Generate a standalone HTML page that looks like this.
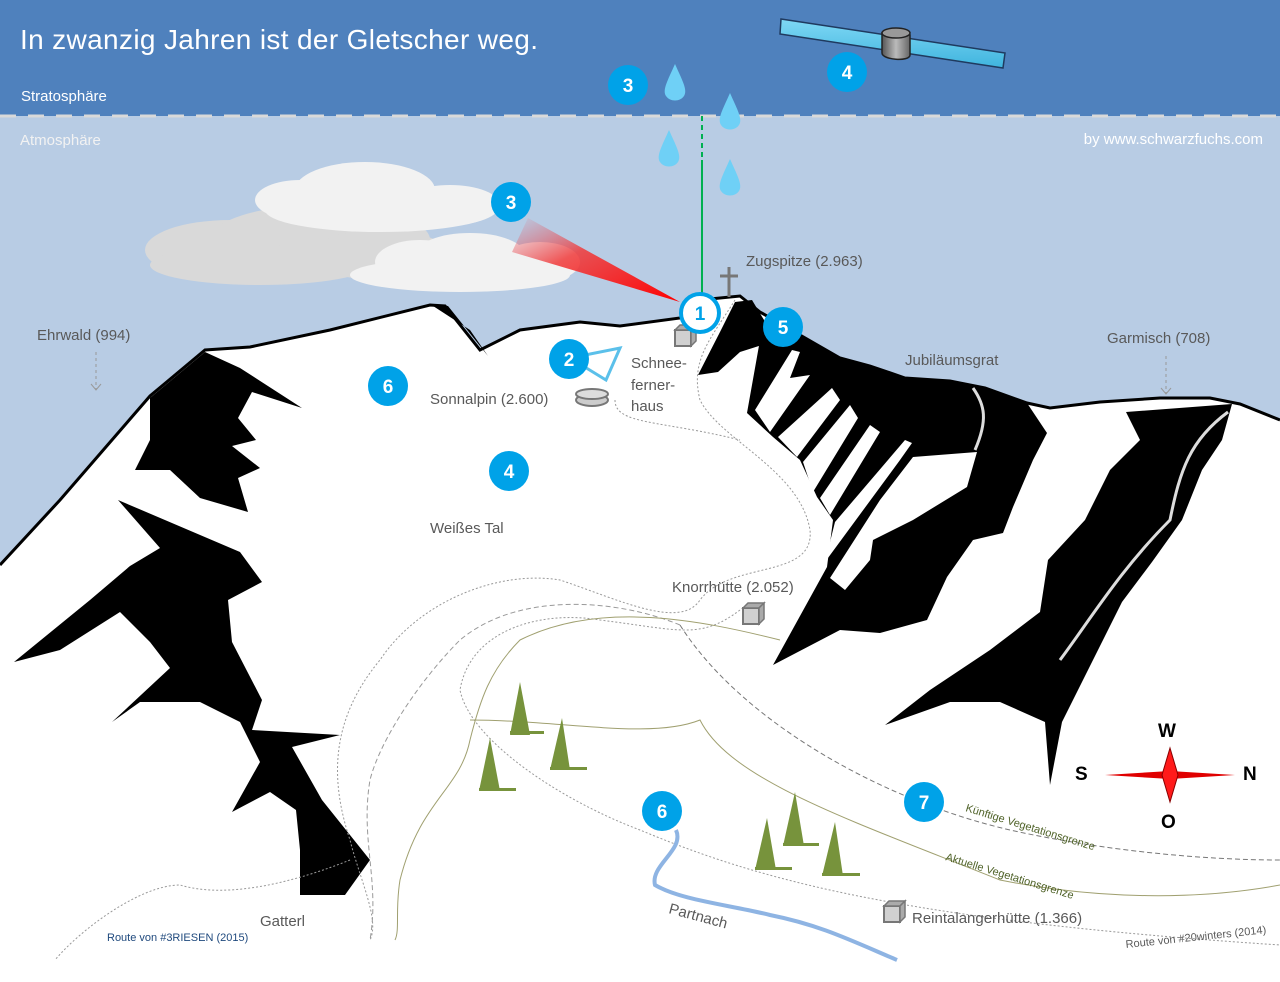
<!DOCTYPE html>
<html><head><meta charset="utf-8"><style>
html,body{margin:0;padding:0;background:#fff}
svg{display:block}
text{font-family:"Liberation Sans",sans-serif}
</style></head><body>
<svg width="1280" height="982" viewBox="0 0 1280 982" xmlns="http://www.w3.org/2000/svg">
<defs>
<linearGradient id="beam" x1="1" y1="1" x2="0" y2="0">
<stop offset="0" stop-color="#ff0000"/><stop offset="0.6" stop-color="#f03a3a" stop-opacity="0.85"/><stop offset="1" stop-color="#e06070" stop-opacity="0"/>
</linearGradient>
<linearGradient id="panel" x1="0" y1="0" x2="0" y2="1"><stop offset="0" stop-color="#7fd8f5"/><stop offset="1" stop-color="#3fb4de"/></linearGradient>
<linearGradient id="body" x1="0" y1="0" x2="1" y2="0"><stop offset="0" stop-color="#555"/><stop offset="0.5" stop-color="#bbb"/><stop offset="1" stop-color="#666"/></linearGradient>
</defs>
<rect width="1280" height="982" fill="#fff"/>
<rect width="1280" height="116" fill="#4f81bd"/>
<rect y="116" width="1280" height="500" fill="#b8cce4"/>
<line x1="0" y1="116" x2="1280" y2="116" stroke="#d9d9d9" stroke-width="3" stroke-dasharray="16,12"/>
<text x="20" y="49" font-size="28" fill="#fff" textLength="518">In zwanzig Jahren ist der Gletscher weg.</text>
<text x="21" y="101" font-size="15" fill="#fff">Stratosphäre</text>
<text x="20" y="145" font-size="15" fill="#f2f2f2">Atmosphäre</text>
<text x="1263" y="144" font-size="15" fill="#fff" text-anchor="end">by www.schwarzfuchs.com</text>

<!-- clouds -->
<g fill="#d9d9d9">
<ellipse cx="230" cy="250" rx="85" ry="30"/><ellipse cx="320" cy="240" rx="110" ry="35"/><ellipse cx="380" cy="255" rx="70" ry="25"/><ellipse cx="260" cy="265" rx="110" ry="20"/>
</g>
<g fill="#f2f2f2">
<ellipse cx="300" cy="200" rx="45" ry="20"/><ellipse cx="365" cy="190" rx="70" ry="28"/><ellipse cx="450" cy="205" rx="50" ry="20"/><ellipse cx="380" cy="210" rx="115" ry="22"/>
<ellipse cx="420" cy="262" rx="45" ry="22"/><ellipse cx="470" cy="255" rx="55" ry="22"/><ellipse cx="540" cy="262" rx="40" ry="20"/><ellipse cx="460" cy="275" rx="110" ry="17"/>
</g>
<polygon points="528,218 512,252 680,302" fill="url(#beam)"/>

<!-- mountain snow -->
<path d="M0,565 L60,500 L150,396 L205,350 L250,347 L330,330 L430,305 L445,306 L480,350 L520,330 L580,322 L620,326 L680,318 L700,300 L740,296 L760,312 L800,335 L840,358 L870,366 L905,378 L950,381 L985,388 L1027,403 L1050,408 L1100,402 L1160,398 L1210,398 L1240,404 L1280,420 L1280,982 L0,982 Z" fill="#fff"/>
<path d="M0,565 L60,500 L150,396 L205,350 L250,347 L330,330 L430,305 L445,306 L480,350 L520,330 L580,322 L620,326 L680,318 L700,300 L740,296 L760,312 L800,335 L840,358 L870,366 L905,378 L950,381 L985,388 L1027,403 L1050,408 L1100,402 L1160,398 L1210,398 L1240,404 L1280,420" fill="none" stroke="#000" stroke-width="3"/>
<polygon points="430,304 448,306 488,356 470,330" fill="#000"/>

<!-- left rock -->
<path d="M150,398 L205,352 L240,368 L302,408 L252,392 L238,418 L256,440 L232,446 L260,468 L238,478 L248,512 L200,498 L170,470 L135,470 L150,440 Z" fill="#000"/>
<path d="M118,500 L240,552 L262,582 L228,600 L232,642 L262,700 L252,730 L340,735 L292,747 L322,800 L370,860 L345,895 L300,895 L300,850 L296,810 L270,792 L232,812 L260,762 L240,722 L200,702 L140,702 L112,722 L170,668 L150,642 L120,612 L60,650 L14,662 L90,600 L130,566 L160,548 Z" fill="#000"/>

<!-- summit -->
<polygon points="698,375 720,332 735,302 752,300 770,330 762,345 740,352 718,372" fill="#000"/>
<!-- right rock A -->
<polygon points="760,325 800,336 840,358 870,366 905,378 950,381 985,388 1027,403 1047,433 1033,460 1013,507 1003,533 973,540 947,577 927,620 880,633 840,630 773,665 827,567 833,520 817,497 800,460 773,437 747,413 760,340" fill="#000"/>
<g fill="#fff">
<polygon points="755,410 770,432 810,375 790,378 800,352 792,350"/>
<polygon points="778,437 797,457 840,400 832,388"/>
<polygon points="803,462 813,492 858,418 850,405"/>
<polygon points="820,498 830,515 880,432 870,425"/>
<polygon points="835,522 825,562 900,460 912,443 905,440"/>
<polygon points="830,578 845,590 870,560 873,540 913,520 967,487 977,452 913,457 880,500"/>
</g>
<path d="M973,388 C985,405 988,420 975,450" stroke="#ddd" stroke-width="3" fill="none"/>
<!-- right rock B -->
<path d="M1126,412 L1232,404 L1222,440 L1202,470 L1182,520 L1152,562 L1122,602 L1102,642 L1082,682 L1062,722 L1050,785 L1045,722 L1000,702 L950,702 L885,725 L930,690 L990,650 L1040,612 L1048,560 L1085,520 L1110,470 L1140,440 Z" fill="#000"/>
<path d="M1228,412 C1190,440 1180,470 1170,520 C1120,570 1090,620 1060,660" stroke="#ddd" stroke-width="3" fill="none"/>

<!-- trails -->
<g fill="none" stroke="#999" stroke-width="1" stroke-dasharray="2,2">
<path d="M735,300 C710,340 690,360 700,400 C720,440 800,470 810,530 C815,580 730,560 700,600 C680,630 620,600 560,580 C500,570 420,600 380,660 C330,720 330,780 350,840 C360,880 380,920 370,940"/>
<path d="M615,400 C615,425 660,420 740,440"/>
<path d="M740,610 C700,640 680,630 600,620 C540,610 470,630 460,690 C470,740 560,800 640,830 C760,880 900,920 1280,945"/>
<path d="M350,860 C300,880 230,900 180,885 C140,885 80,930 55,960"/>
</g>
<path d="M680,625 C620,600 520,590 460,640 C420,680 380,740 370,780 C360,840 380,880 370,940" fill="none" stroke="#999" stroke-dasharray="5,3"/>
<path d="M680,625 C740,720 880,800 1010,830 C1100,850 1200,860 1280,860" fill="none" stroke="#777" stroke-dasharray="5,3"/>
<path d="M780,640 C700,620 600,600 520,640 C490,670 480,700 470,740 C460,790 420,800 400,880 C395,910 400,930 395,940 M470,720 C560,720 650,740 700,720 C730,780 850,820 1000,880 C1100,900 1200,900 1280,885" fill="none" stroke="#a0a070" stroke-width="1"/>
<text x="107" y="941" font-size="11" fill="#1f497d">Route von #3RIESEN (2015)</text>
<text x="260" y="926" font-size="15" fill="#595959">Gatterl</text>
<text x="1126" y="948" font-size="11" fill="#595959" transform="rotate(-6 1126 948)">Route von #20winters (2014)</text>

<!-- river -->
<path d="M676,830 C685,850 650,865 655,885 C680,900 730,905 770,915 C820,925 850,940 897,960" fill="none" stroke="#8eb4e3" stroke-width="4"/>
<text x="668" y="913" font-size="15" fill="#595959" transform="rotate(15 668 913)">Partnach</text>

<!-- trees -->
<g fill="#77933c">
<polygon points="520,682 510,735 530,735"/><rect x="510" y="731" width="34" height="3"/>
<polygon points="562,718 550,770 570,770"/><rect x="550" y="767" width="37" height="3"/>
<polygon points="490,738 479,791 500,791"/><rect x="479" y="788" width="37" height="3"/>
<polygon points="795,792 783,846 804,846"/><rect x="783" y="843" width="36" height="3"/>
<polygon points="767,818 755,870 776,870"/><rect x="755" y="867" width="37" height="3"/>
<polygon points="835,822 822,876 843,876"/><rect x="822" y="873" width="38" height="3"/>
</g>
<text x="965" y="811" font-size="11" fill="#4f6228" transform="rotate(17 965 811)">Künftige Vegetationsgrenze</text>
<text x="945" y="860" font-size="11" fill="#4f6228" transform="rotate(17 945 860)">Aktuelle Vegetationsgrenze</text>

<!-- huts -->
<g fill="#d0d0d0" stroke="#777" stroke-width="2">
<rect x="675" y="330" width="16" height="16"/><rect x="743" y="608" width="16" height="16"/><rect x="884" y="906" width="16" height="16"/>
</g>
<g fill="#aaa" stroke="#777" stroke-width="1.5">
<polygon points="675,330 680,325 696,325 691,330"/><polygon points="691,330 696,325 696,341 691,346"/>
<polygon points="743,608 748,603 764,603 759,608"/><polygon points="759,608 764,603 764,619 759,624"/>
<polygon points="884,906 889,901 905,901 900,906"/><polygon points="900,906 905,901 905,917 900,922"/>
</g>
<ellipse cx="592" cy="400" rx="16" ry="6" fill="#ccc" stroke="#777" stroke-width="2"/>
<ellipse cx="592" cy="394" rx="16" ry="5" fill="#ddd" stroke="#777" stroke-width="2"/>
<polygon points="570,358 620,348 606,380" fill="none" stroke="#5bc0ea" stroke-width="3"/>

<!-- labels -->
<g font-size="15" fill="#595959">
<text x="37" y="340">Ehrwald (994)</text>
<text x="1107" y="343">Garmisch (708)</text>
<text x="905" y="365">Jubiläumsgrat</text>
<text x="746" y="266">Zugspitze (2.963)</text>
<text x="430" y="404">Sonnalpin (2.600)</text>
<text x="631" y="368">Schnee-</text><text x="631" y="390">ferner-</text><text x="631" y="411">haus</text>
<text x="430" y="533">Weißes Tal</text>
<text x="672" y="592">Knorrhütte (2.052)</text>
<text x="912" y="923">Reintalangerhütte (1.366)</text>
</g>
<g stroke="#999" stroke-dasharray="3,3" fill="none"><line x1="96" y1="352" x2="96" y2="390"/><line x1="1166" y1="356" x2="1166" y2="394"/></g>
<g stroke="#999" fill="none"><polyline points="91,384 96,390 101,384"/><polyline points="1161,388 1166,394 1171,388"/></g>

<!-- cross, antenna -->
<g stroke="#777" stroke-width="3"><line x1="729" y1="267" x2="729" y2="297"/><line x1="720" y1="276" x2="738" y2="276"/></g>
<line x1="702" y1="116" x2="702" y2="160" stroke="#00b050" stroke-width="2" stroke-dasharray="5,4"/>
<line x1="702" y1="160" x2="702" y2="295" stroke="#00b050" stroke-width="2"/>

<!-- drops -->
<g fill="#6fd0f6">
<path d="M675,64 C668,80 662,90 666,96 C670,102 680,102 684,96 C688,90 682,80 675,64Z"/>
<path d="M730,93 C723,109 717,119 721,125 C725,131 735,131 739,125 C743,119 737,109 730,93Z"/>
<path d="M669,130 C662,146 656,156 660,162 C664,168 674,168 678,162 C682,156 676,146 669,130Z"/>
<path d="M730,159 C723,175 717,185 721,191 C725,197 735,197 739,191 C743,185 737,175 730,159Z"/>
</g>

<!-- satellite -->
<polygon points="781,19 1005,53 1003,68 780,34" fill="url(#panel)" stroke="#1f3a5f" stroke-width="1.5"/>
<path d="M882,33 L882,53 C882,60 910,62 910,55 L910,35 Z" fill="url(#body)" stroke="#222" stroke-width="1.5"/>
<ellipse cx="896" cy="33" rx="14" ry="5" fill="#999" stroke="#222" stroke-width="1.5"/>

<!-- compass -->
<polygon points="1105,775 1170,771 1235,775 1170,779" fill="#e00000"/>
<polygon points="1170,748 1178,775 1170,802 1162,775" fill="#ff1a1a" stroke="#800" stroke-width="1"/>
<g font-size="19" font-weight="bold" fill="#000">
<text x="1158" y="737">W</text><text x="1075" y="780">S</text><text x="1243" y="780">N</text><text x="1161" y="828">O</text>
</g>

<!-- number badges -->
<g fill="#00a2e8"><circle cx="628" cy="85" r="20"/><circle cx="847" cy="72" r="20"/><circle cx="511" cy="202" r="20"/><circle cx="783" cy="327" r="20"/><circle cx="569" cy="359" r="20"/><circle cx="388" cy="386" r="20"/><circle cx="509" cy="471" r="20"/><circle cx="662" cy="811" r="20"/><circle cx="924" cy="802" r="20"/></g>
<circle cx="700" cy="313" r="19" fill="#fff" stroke="#00a2e8" stroke-width="4"/>
<g font-size="19" font-weight="bold" fill="#fff" text-anchor="middle">
<text x="628" y="92">3</text><text x="847" y="79">4</text><text x="511" y="209">3</text><text x="783" y="334">5</text><text x="569" y="366">2</text><text x="388" y="393">6</text><text x="509" y="478">4</text><text x="662" y="818">6</text><text x="924" y="809">7</text>
</g>
<text x="700" y="320" font-size="19" font-weight="bold" fill="#00a2e8" text-anchor="middle">1</text>
</svg>
</body></html>
